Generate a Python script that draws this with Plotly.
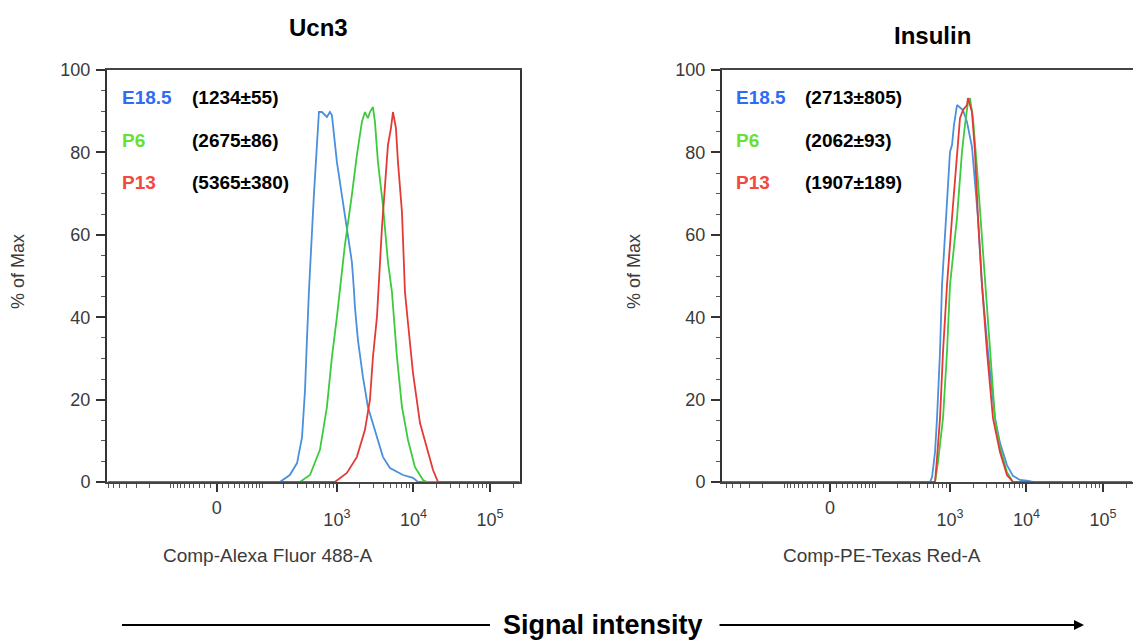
import numpy as np
import plotly.graph_objects as go

# ---------------- data (intensity values, % of max) ----------------
ucn3_e185_x = [-700, 176, 240, 300, 349, 382, 405, 431, 500, 582, 637, 740, 810, 861, 1000, 1162, 1351,
               1570, 1670, 1719, 1882, 2187, 2542, 3139, 3990, 4931, 7295, 9846, 11455, 240000]
ucn3_e185_y = [0, 0, 1.7, 4.6, 10.9, 22.3, 34.5, 46.6, 69.7, 89.8, 89.8, 88.6, 89.8, 89.0, 77.7, 69.7, 61.7,
               53.4, 46.6, 42.5, 34.5, 25.5, 18.2, 12.6, 6.1, 3.4, 1.7, 1.0, 0, 0]

ucn3_p6_x = [-700, 326, 444, 600, 740, 861, 1000, 1094, 1272, 1570, 1825, 2122, 2323, 2542, 2700, 2956,
             3139, 3435, 3990, 4641, 5236, 6083, 7073, 8475, 10463, 13305, 15000, 240000]
ucn3_p6_y = [0, 0, 1.7, 7.8, 18.2, 30.3, 40.0, 46.6, 57.5, 69.7, 79.4, 87.4, 89.8, 88.3, 89.8, 91.0,
             87.4, 77.7, 67.2, 53.4, 46.1, 30.3, 18.2, 10.2, 3.6, 0.5, 0, 0]

ucn3_p13_x = [-700, 941, 1351, 1825, 2323, 2700, 2956, 3333, 3874, 4505, 4641, 5080, 5395, 5902, 6269,
              7073, 7740, 8475, 9846, 12163, 15000, 17980, 20900, 240000]
ucn3_p13_y = [0, 0, 2.2, 6.1, 12.6, 19.9, 30.3, 40.0, 61.7, 77.7, 81.8, 85.9, 89.8, 85.9, 77.7,
              65.5, 46.1, 38.6, 26.5, 14.3, 7.8, 2.9, 0, 0]

ins_e185_x = [-700, 548, 582, 637, 676, 740, 786, 861, 1000, 1062, 1128, 1235, 1351, 1479, 1668, 1940,
              2323, 2620, 3139, 3874, 4505, 5560, 6662, 8222, 10150, 12163, 240000]
ins_e185_y = [0, 0, 1.2, 7.3, 15.5, 31.6, 47.8, 60.0, 80.1, 81.8, 86.7, 91.5, 90.8, 90.3, 87.4, 81.3,
              64.1, 47.8, 31.6, 15.5, 9.5, 4.1, 1.5, 0.5, 0.3, 0, 0]

ins_p6_x = [-700, 637, 697, 810, 914, 1000, 1235, 1435, 1570, 1719, 1825, 1997, 2254, 2620, 2868, 3333,
            3874, 4505, 5560, 6662, 240000]
ins_p6_y = [0, 0, 4.9, 15.5, 31.6, 47.8, 64.1, 80.1, 86.7, 92.2, 93.2, 88.3, 76.2, 60.0, 47.8, 31.6,
            15.5, 8.3, 2.4, 0, 0]

ins_p13_x = [-700, 637, 676, 740, 810, 914, 1062, 1235, 1351, 1479, 1668, 1719, 1940, 2122, 2323, 2620,
             3048, 3648, 4505, 5560, 6662, 240000]
ins_p13_y = [0, 0, 5.8, 15.5, 31.6, 47.8, 64.1, 80.1, 88.3, 90.3, 91.5, 93.2, 89.8, 80.1, 64.1, 47.8,
             31.6, 15.5, 7.3, 1.7, 0, 0]

groups = ["E18.5", "P6", "P13"]
ucn3_labels = ["(1234±55)", "(2675±86)", "(5365±380)"]
ins_labels = ["(2713±805)", "(2062±93)", "(1907±189)"]

x_major_vals = [0, 1000, 10000, 100000]
x_major_text = ["", "10<sup>3</sup>", "10<sup>4</sup>", "10<sup>5</sup>"]
x_zero_val = [0]
x_zero_text = ["0"]
y_ticks = [0, 20, 40, 60, 80, 100]

# ---------------- biexponential (arcsinh) display transform ----------------
W = 27.0
def biex(v):
    v = np.asarray(v, dtype=float)
    return np.log10(W) + np.arcsinh(v / (2 * W)) / np.log(10)

minor_vals = ([-v for v in range(100, 800, 100)] + [-v for v in range(10, 100, 10)] +
              list(range(10, 100, 10)) + list(range(100, 1000, 100)) +
              list(range(2000, 10000, 1000)) + list(range(20000, 100000, 10000)) + [200000])

line_colors = ["#4a90dd", "#3ccb3c", "#e43a36"]
text_colors = ["#2f6cf5", "#6be033", "#f24a3c"]

W_PX, H_PX = 1133, 640
def px(x):
    return x / W_PX
def py(y):
    return 1 - y / H_PX

fig = go.Figure()

ucn3 = [(ucn3_e185_x, ucn3_e185_y), (ucn3_p6_x, ucn3_p6_y), (ucn3_p13_x, ucn3_p13_y)]
ins = [(ins_e185_x, ins_e185_y), (ins_p6_x, ins_p6_y), (ins_p13_x, ins_p13_y)]

for (xs, ys), c, g in zip(ucn3, line_colors, groups):
    fig.add_trace(go.Scatter(x=biex(xs), y=ys, mode="lines", name=g,
                             line=dict(color=c, width=1.8), xaxis="x", yaxis="y", showlegend=False))
for (xs, ys), c, g in zip(ins, line_colors, groups):
    fig.add_trace(go.Scatter(x=biex(xs), y=ys, mode="lines", name=g,
                             line=dict(color=c, width=1.8), xaxis="x2", yaxis="y2", showlegend=False))
# carrier traces so the "0"-label axes are drawn
for xa, ya in (("x3", "y"), ("x4", "y2")):
    fig.add_trace(go.Scatter(x=list(biex(x_zero_val)), y=[0], mode="markers", marker=dict(opacity=0),
                             xaxis=xa, yaxis=ya, showlegend=False, hoverinfo="skip"))

FONT = "Liberation Sans, Arial, Helvetica, sans-serif"
tickfont = dict(family=FONT, size=18, color="#3a3a3a")

dy = [py(482), py(70)]
xr1 = [0.0, 5.39]
xr2 = [0.02, 0.02 + 411 / 76.5]

def xaxis(domain, rng, anchor):
    return dict(domain=domain, range=rng, anchor=anchor, tickmode="array",
                tickvals=list(biex(x_major_vals)), ticktext=x_major_text,
                ticks="outside", ticklen=8, tickwidth=1.5, tickcolor="#333",
                showline=True, linecolor="#444", linewidth=2, mirror=True,
                showgrid=False, zeroline=False, tickfont=tickfont,
                ticklabelstandoff=12, automargin=False,
                minor=dict(tickmode="array", tickvals=list(biex(minor_vals)),
                           ticks="outside", ticklen=4, tickwidth=1, tickcolor="#555", showgrid=False))

def zero_axis(over, domain, rng, anchor):
    return dict(overlaying=over, domain=domain, range=rng, anchor=anchor, tickmode="array",
                tickvals=list(biex(x_zero_val)), ticktext=x_zero_text, ticks="", showline=False,
                showgrid=False, zeroline=False, tickfont=tickfont, ticklabelstandoff=13,
                automargin=False, side="bottom")

def yaxis(anchor, mirror):
    return dict(domain=dy, range=[0, 100], anchor=anchor, tickmode="array", tickvals=y_ticks,
                ticks="outside", ticklen=9, tickwidth=1.5, tickcolor="#333",
                showline=True, linecolor="#333", linewidth=2, mirror=mirror,
                showgrid=False, zeroline=False, tickfont=tickfont, automargin=False,
                ticklabelstandoff=2,
                minor=dict(dtick=5, ticks="outside", ticklen=4, tickwidth=1, tickcolor="#555", showgrid=False))

fig.update_layout(
    width=W_PX, height=H_PX,
    margin=dict(l=0, r=0, t=0, b=0),
    paper_bgcolor="white", plot_bgcolor="white",
    xaxis=xaxis([px(107), px(520)], xr1, "y"),
    yaxis=yaxis("x", True),
    xaxis2=xaxis([px(722), 1.0], xr2, "y2"),
    yaxis2=yaxis("x2", False),
    xaxis3=zero_axis("x", [px(107), px(520)], xr1, "y"),
    xaxis4=zero_axis("x2", [px(722), 1.0], xr2, "y2"),
)

ann = []
def text(x, y, s, size=18, color="#3a3a3a", bold=False, xanchor="center", textangle=0, family=FONT):
    if bold:
        s = "<b>" + s + "</b>"
    ann.append(dict(x=px(x), y=py(y), xref="paper", yref="paper", text=s, showarrow=False,
                    xanchor=xanchor, yanchor="middle", textangle=textangle,
                    font=dict(family=family, size=size, color=color)))

text(318, 28, "Ucn3", size=24, color="black", bold=True)
text(932, 35, "Insulin", size=24, color="black", bold=True)

rows_y = [98, 140, 182]
for g, lab, c, yy in zip(groups, ucn3_labels, text_colors, rows_y):
    text(120, yy, g, size=19, color=c, bold=True, xanchor="left")
    text(190, yy, lab, size=19, color="black", bold=True, xanchor="left")
for g, lab, c, yy in zip(groups, ins_labels, text_colors, rows_y):
    text(734, yy, g, size=19, color=c, bold=True, xanchor="left")
    text(803, yy, lab, size=19, color="black", bold=True, xanchor="left")

text(18, 272, "% of Max", size=18, textangle=-90)
text(634, 272, "% of Max", size=18, textangle=-90)
text(267, 555, "Comp-Alexa Fluor 488-A", size=19)
text(882, 555, "Comp-PE-Texas Red-A", size=19)
text(603, 625, "Signal intensity", size=27, color="black", bold=True,
     family="Liberation Sans Narrow, Arial Narrow, Liberation Sans, sans-serif")

# right arrow
ann.append(dict(x=px(1084), y=py(625), ax=-(1084 - 718), ay=0, xref="paper", yref="paper",
                axref="pixel", ayref="pixel", text="", showarrow=True, arrowhead=2,
                arrowsize=1, arrowwidth=2, arrowcolor="black"))
fig.update_layout(annotations=ann,
                  shapes=[dict(type="line", xref="paper", yref="paper", x0=px(122), x1=px(490),
                               y0=py(625), y1=py(625), line=dict(color="black", width=2))])

fig.write_html("out.html")
